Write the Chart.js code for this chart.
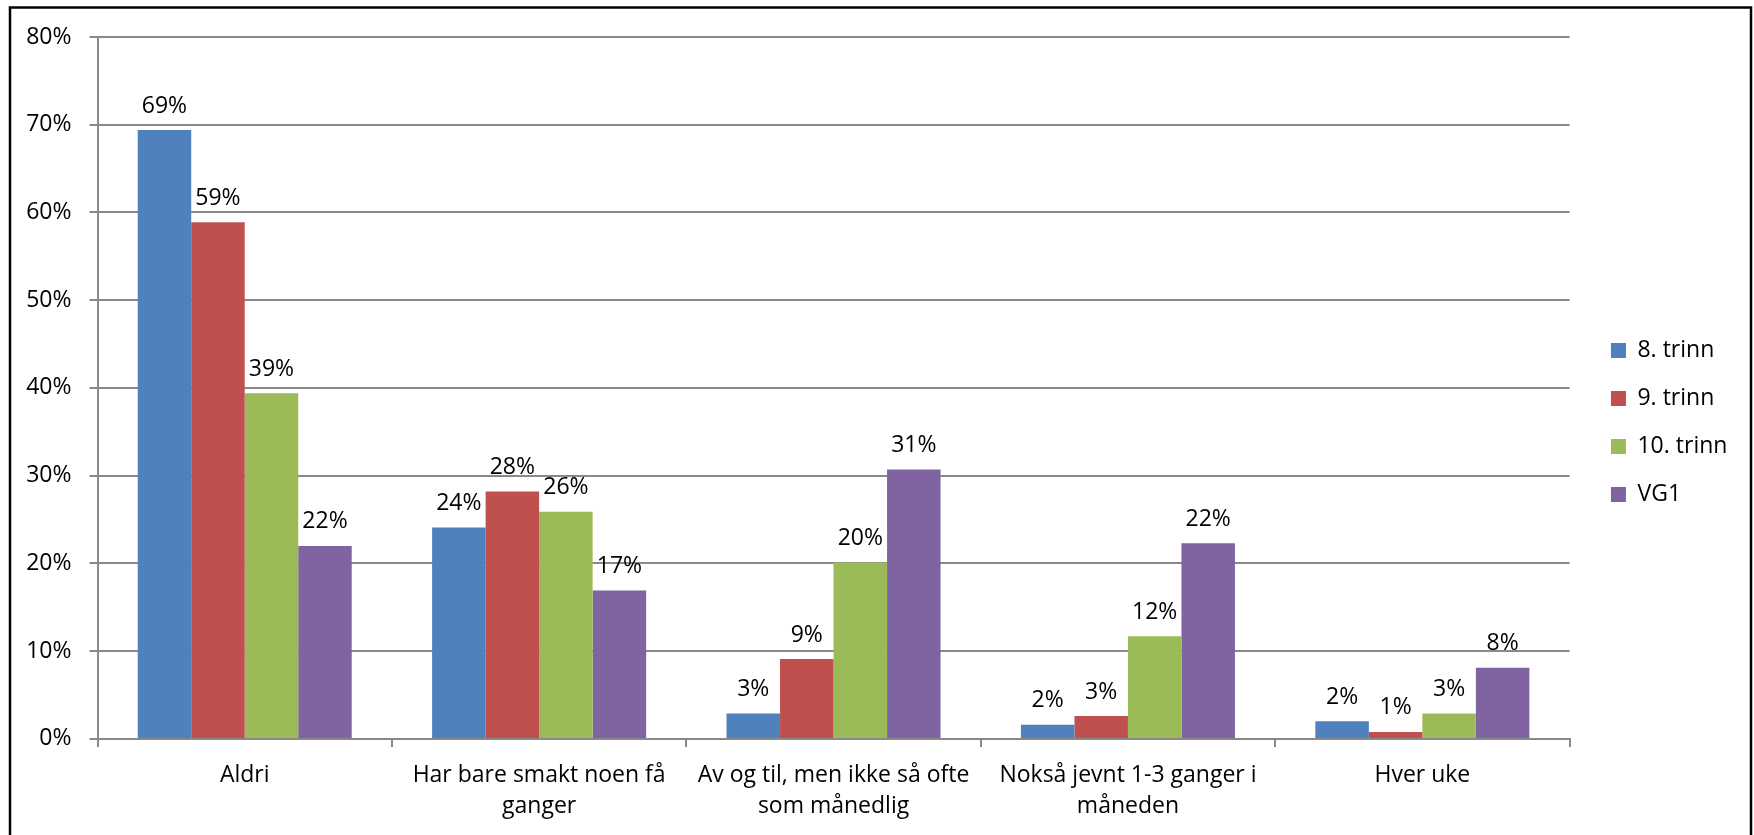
<!DOCTYPE html>
<html>
<head>
<meta charset="utf-8">
<script src="https://cdn.jsdelivr.net/npm/chart.js@4.4.1/dist/chart.umd.min.js"></script>
<style>
html,body{margin:0;padding:0;background:#fff;}
canvas{display:block;}
</style>
</head>
<body>
<canvas id="c" width="1754" height="835"></canvas>
<script>
// ---- data ----
const categories = [
  ["Aldri"],
  ["Har bare smakt noen få", "ganger"],
  ["Av og til, men ikke så ofte", "som månedlig"],
  ["Nokså jevnt 1-3 ganger i", "måneden"],
  ["Hver uke"]
];
const seriesNames = ["8. trinn", "9. trinn", "10. trinn", "VG1"];
const trinn8  = [69.4, 24.1, 2.9, 1.6, 2.0];
const trinn9  = [58.9, 28.2, 9.1, 2.6, 0.8];
const trinn10 = [39.4, 25.9, 20.1, 11.7, 2.9];
const vg1     = [22.0, 16.9, 30.7, 22.3, 8.1];
const yMin = 0, yMax = 80, yStep = 10;

// ---- styles ----
const seriesValues = [trinn8, trinn9, trinn10, vg1];
const seriesColors = ["#4F81BD", "#C0504D", "#9BBB59", "#8064A2"];
const FONT = "'Open Sans', Lato, sans-serif";
const FONT_SIZE = 23;
const gridColor = "#898989";

const frame = {
  id: 'frame',
  afterDraw(chart) {
    const ctx = chart.ctx;
    ctx.save();
    ctx.strokeStyle = '#000';
    ctx.lineWidth = 2.5;
    ctx.beginPath();
    ctx.moveTo(10, 900);
    ctx.lineTo(10, 7.5);
    ctx.lineTo(1751, 7.5);
    ctx.lineTo(1751, 900);
    ctx.stroke();
    ctx.restore();
  }
};

const valueLabels = {
  id: 'valueLabels',
  afterDatasetsDraw(chart) {
    const ctx = chart.ctx;
    ctx.save();
    ctx.font = FONT_SIZE + "px " + FONT;
    ctx.fillStyle = '#000';
    ctx.textAlign = 'center';
    ctx.textBaseline = 'middle';
    chart.data.datasets.forEach((ds, i) => {
      const meta = chart.getDatasetMeta(i);
      meta.data.forEach((bar, j) => {
        ctx.fillText(Math.round(ds.data[j]) + '%', bar.x, bar.y - 24);
      });
    });
    ctx.restore();
  }
};

const legendPlace = {
  id: 'legendPlace',
  afterLayout(chart) {
    const l = chart.legend;
    if (!l) return;
    const dx = 16.4, dy = -13.5;
    l.left += dx; l.right += dx;
    l.top += dy; l.bottom += dy;
  }
};

new Chart(document.getElementById('c'), {
  type: 'bar',
  data: {
    labels: categories,
    datasets: seriesNames.map((name, i) => ({
      label: name,
      data: seriesValues[i],
      backgroundColor: seriesColors[i],
      borderWidth: 0,
      categoryPercentage: 0.727,
      barPercentage: 1.0
    }))
  },
  options: {
    responsive: false,
    animation: false,
    devicePixelRatio: 1,
    layout: { padding: { left: 8.2, right: 33, top: 37, bottom: 0 } },
    plugins: {
      legend: {
        position: 'right',
        labels: {
          boxWidth: 15,
          boxHeight: 15,
          padding: 25,
          color: '#000',
          font: { family: FONT, size: FONT_SIZE }
        }
      },
      tooltip: { enabled: false }
    },
    scales: {
      x: {
        grid: {
          display: true,
          drawOnChartArea: false,
          drawTicks: true,
          tickLength: 8,
          color: gridColor,
          lineWidth: 2
        },
        border: { display: true, color: gridColor, width: 2 },
        ticks: {
          color: '#000',
          padding: 13,
          maxRotation: 0,
          autoSkip: false,
          font: { family: FONT, size: FONT_SIZE, lineHeight: 1.35 }
        }
      },
      y: {
        min: yMin,
        max: yMax,
        grid: {
          color: gridColor,
          lineWidth: 2,
          drawTicks: true,
          tickLength: 8
        },
        border: { display: true, color: gridColor, width: 2 },
        ticks: {
          stepSize: yStep,
          color: '#000',
          padding: 18,
          font: { family: FONT, size: FONT_SIZE },
          callback: v => v + '%'
        }
      }
    }
  },
  plugins: [frame, valueLabels, legendPlace]
});
</script>
</body>
</html>
